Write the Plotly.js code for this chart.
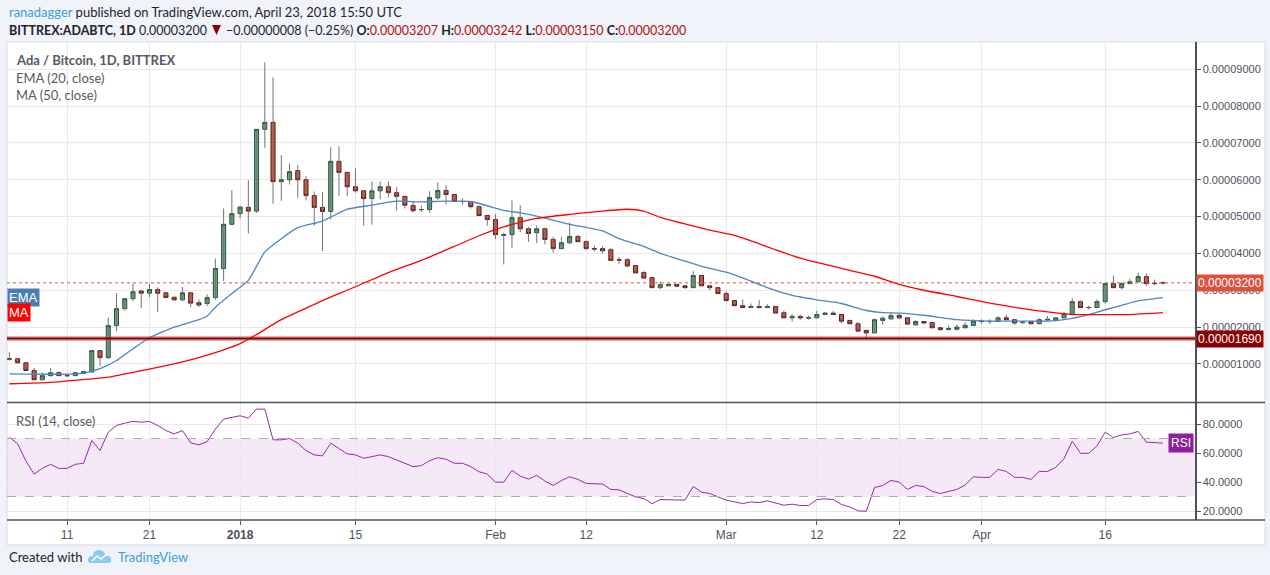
<!DOCTYPE html>
<html><head><meta charset="utf-8">
<script src="https://cdn.plot.ly/plotly-3.0.1.min.js"></script>
<style>html,body{margin:0;padding:0;background:#f0f3fa;overflow:hidden}#chart{width:1270px;height:575px}</style>
</head><body><div id="chart"></div>
<script>
// ---------- DATA (prices in satoshi, 1 sat = 0.00000001 BTC) ----------
const startDate = '2017-12-04';   // first daily candle
const opens = [1140,1140,1030,820,570,680,760,680,680,740,780,1360,1170,2040,2500,2770,2980,2920,3020,2930,
  2810,2740,2930,2660,2640,2800,3590,4790,5080,5250,5150,7370,7560,5950,6000,6250,6000,5570,5250,5140,
  6500,6200,5810,5700,5490,5700,5810,5650,5550,5300,5190,5190,5510,5710,5600,5410,5410,5270,5030,4920,
  4490,4510,4970,4670,4560,4670,4380,4130,4290,4460,4320,4130,4130,4100,3830,3830,3670,3480,3340,3070,
  3120,3160,3120,3070,3400,3120,3070,2910,2720,2580,2530,2560,2530,2560,2390,2250,2290,2250,2250,2340,
  2380,2340,2180,2090,1910,1840,2180,2220,2320,2250,2060,2150,2120,1980,1930,1940,1980,2040,2150,2150,
  2150,2250,2200,2120,2150,2090,2190,2180,2250,2360,2690,2530,2530,2690,3180,3070,3180,3230,3370,3190,3207];
const highs = [1320,1140,1030,890,770,890,790,710,760,820,1380,1360,2260,2920,2770,3180,3000,3180,3080,2960,
  2810,3090,2930,2750,2890,3860,5220,5720,5260,5990,7370,9190,8780,6670,6440,6400,6100,5680,5670,6880,
  6910,6220,6310,5700,5960,5960,5960,5800,5550,5400,5300,5690,5930,5850,5600,5500,5410,5300,5030,5060,
  4560,5440,5310,4720,4760,4700,4450,4450,4840,4500,4350,4210,4200,4150,3900,3870,3670,3520,3340,3240,
  3160,3170,3120,3520,3400,3120,3070,2970,2720,2750,2640,2740,2620,2560,2450,2350,2330,2310,2440,2410,
  2440,2340,2180,2130,1910,2230,2290,2400,2360,2250,2190,2150,2120,1980,2040,2070,2130,2210,2210,2210,
  2290,2340,2220,2160,2150,2240,2300,2270,2410,2780,2720,2580,2750,3180,3400,3220,3310,3480,3460,3290,3242];
const lows = [1090,1030,820,570,550,660,680,660,680,740,780,940,1130,1890,2450,2700,2510,2810,2410,2800,
  2720,2700,2540,2540,2570,2740,3250,4790,4950,4540,5100,6870,5350,5430,5870,5510,5440,4750,4070,4920,
  5560,5560,5650,4750,4780,5470,5520,5170,5220,5110,5120,5110,5450,5330,5410,5330,5220,5030,4750,4390,
  3700,4150,4580,4310,4280,4240,4020,4130,4250,4300,4100,4060,4000,3800,3710,3620,3470,3330,3070,3030,
  3120,3080,3050,3070,3120,3000,2910,2690,2580,2530,2530,2500,2530,2360,2250,2150,2200,2200,2250,2340,
  2340,2100,2090,1890,1660,1840,2070,2220,2220,2080,2040,2100,1980,1900,1930,1910,1980,2040,2090,2080,
  2150,2200,2060,2090,2090,2090,2170,2180,2250,2360,2530,2480,2530,2640,3070,3020,3180,3230,3120,3140,3150];
const closes = [1130,1030,820,570,680,760,680,680,760,790,1360,1170,2040,2500,2770,2960,2920,3020,2920,2800,
  2740,2930,2650,2600,2800,3590,4790,5080,5260,5150,7370,7560,5950,6000,6220,6000,5570,5250,5140,6500,
  6200,5810,5700,5490,5700,5810,5650,5550,5310,5160,5190,5520,5710,5600,5410,5410,5270,5030,4920,4510,
  4510,4970,4670,4540,4670,4380,4130,4290,4460,4320,4130,4120,4070,3810,3820,3660,3470,3330,3070,3150,
  3160,3110,3070,3400,3120,3070,2910,2720,2580,2530,2560,2530,2560,2380,2250,2290,2250,2250,2340,2380,
  2340,2160,2090,1890,1840,2200,2240,2310,2250,2080,2150,2110,1980,1930,1960,2000,2050,2160,2160,2150,
  2250,2200,2110,2130,2090,2200,2210,2250,2360,2690,2530,2530,2690,3180,3070,3180,3230,3370,3180,3180,3200];

// EMA (20, close)
const emaDates = ['2017-12-04','2017-12-11','2017-12-13','2017-12-15','2017-12-17','2017-12-19','2017-12-21','2017-12-24','2017-12-27','2017-12-28',
  '2017-12-29','2017-12-31','2018-01-02','2018-01-04','2018-01-06','2018-01-08','2018-01-11','2018-01-14','2018-01-17','2018-01-20',
  '2018-01-23','2018-01-26','2018-01-29','2018-02-02','2018-02-04','2018-02-06','2018-02-10','2018-02-14','2018-02-16','2018-02-19',
  '2018-02-21','2018-02-24','2018-02-26','2018-03-01','2018-03-04','2018-03-06','2018-03-09','2018-03-12','2018-03-15','2018-03-18',
  '2018-03-20','2018-03-22','2018-03-25','2018-03-29','2018-04-02','2018-04-06','2018-04-09','2018-04-11','2018-04-14','2018-04-16',
  '2018-04-18','2018-04-20','2018-04-23'];
const emaVals = [730,720,750,870,1090,1410,1710,2000,2200,2300,
  2540,2910,3270,4040,4400,4700,4880,5200,5310,5420,
  5400,5420,5410,5170,5100,5010,4790,4610,4400,4190,
  4000,3790,3650,3490,3250,3070,2860,2740,2640,2450,
  2390,2380,2320,2200,2160,2160,2160,2200,2340,2470,
  2590,2710,2800];
// MA (50, close)
const maDates = ['2017-12-04','2017-12-09','2017-12-13','2017-12-16','2017-12-19','2017-12-21','2017-12-24','2017-12-27','2017-12-30','2018-01-01',
  '2018-01-03','2018-01-06','2018-01-08','2018-01-11','2018-01-14','2018-01-19','2018-01-23','2018-01-27','2018-01-30','2018-02-02',
  '2018-02-06','2018-02-10','2018-02-14','2018-02-17','2018-02-19','2018-02-21','2018-02-24','2018-02-27','2018-03-02','2018-03-04',
  '2018-03-10','2018-03-16','2018-03-19','2018-03-22','2018-03-25','2018-03-29','2018-04-02','2018-04-06','2018-04-09','2018-04-12',
  '2018-04-16','2018-04-19','2018-04-23'];
const maVals = [460,500,570,640,770,860,1000,1170,1380,1550,
  1800,2200,2410,2720,3000,3480,3810,4190,4480,4720,
  4950,5060,5150,5200,5150,4980,4800,4630,4490,4340,
  3870,3540,3380,3160,3000,2830,2650,2500,2410,2340,
  2340,2340,2390];
// RSI (14, close), one value per candle
const rsi = [70.9,66.3,54.5,45.5,49.4,52.2,49.4,49.4,52.2,52.9,
  68.6,61.7,74.4,79.0,80.6,81.8,81.3,81.8,79.0,75.5,
  73.2,75.5,67.0,65.6,67.9,76.5,83.4,84.8,85.7,84.1,
  90.3,90.3,69.1,69.1,70.0,66.8,61.7,58.7,58.0,66.8,
  63.3,59.4,58.7,56.4,57.5,58.7,57.5,55.2,52.9,50.6,
  51.3,54.7,56.8,55.7,52.9,52.9,50.6,47.1,45.5,39.9,
  39.9,48.0,44.1,42.0,44.6,40.6,37.6,41.0,43.6,41.8,
  39.0,38.9,38.6,34.9,34.6,32.1,29.8,28.6,25.1,27.9,
  27.9,27.9,27.5,36.9,33.0,32.1,29.8,27.5,26.3,25.1,
  26.3,25.8,27.0,25.6,24.0,24.7,23.8,23.8,27.9,28.4,
  27.9,24.5,22.8,20.1,19.8,36.2,37.6,41.1,39.9,34.9,
  37.6,36.9,33.5,32.1,33.5,34.9,37.9,43.6,43.2,43.2,
  48.7,47.3,43.2,43.2,41.8,47.3,47.3,50.1,56.1,68.2,
  59.8,59.8,64.9,74.4,70.7,72.5,73.2,74.9,67.5,67.2,66.8];
const supportLevel = 1690;
const lastPrice = 3200;
const priceTicks = [1000,2000,3000,4000,5000,6000,7000,8000,9000];
const rsiTicks = [20,40,60,80];
const rsiBands = [30,70];
const dateTickVals = ['2017-12-11','2017-12-21','2018-01-01','2018-01-15','2018-02-01','2018-02-12','2018-03-01','2018-03-12','2018-03-22','2018-04-01','2018-04-16'];
const dateTickText = ['11','21','<b>2018</b>','15','Feb','12','Mar','12','22','Apr','16'];

// ---------- BUILD ----------
const SAT = 1e-8;
const s = v => v*SAT;
const t0 = Date.parse(startDate+'T00:00:00Z');
const dates = opens.map((_,i)=>new Date(t0+i*86400000).toISOString().slice(0,10));

const wx=[], wy=[];
dates.forEach((d,i)=>{wx.push(d,d,null); wy.push(s(lows[i]),s(highs[i]),null);});

const FONT = 'Liberation Sans, Arial, sans-serif';
const UIF = 'Lato, Open Sans, sans-serif';
// pixel helpers (plot area: x 7..1195, y 42..520)
const X = px => (px-7)/1188;
const Y = py => (520-py)/478;

const traces = [
  {type:'scatter', mode:'lines', x:wx, y:wy, line:{color:'#737375', width:1}, hoverinfo:'skip', xaxis:'x', yaxis:'y'},
  {type:'candlestick', x:dates,
   open:opens.map(s), close:closes.map(s),
   high:opens.map((o,i)=>s(Math.max(o,closes[i]))), low:opens.map((o,i)=>s(Math.min(o,closes[i]))),
   increasing:{fillcolor:'#6ba583', line:{color:'#225437', width:1}},
   decreasing:{fillcolor:'#d75442', line:{color:'#5b1a13', width:1}},
   whiskerwidth:0, xaxis:'x', yaxis:'y'},
  {type:'scatter', mode:'lines', x:emaDates, y:emaVals.map(s), line:{color:'#4a86c5', width:1.3, shape:'spline', smoothing:0.5}, xaxis:'x', yaxis:'y'},
  {type:'scatter', mode:'lines', x:maDates, y:maVals.map(s), line:{color:'#ff0000', width:1.3, shape:'spline', smoothing:0.5}, xaxis:'x', yaxis:'y'},
  {type:'scatter', mode:'lines', x:dates, y:rsi, line:{color:'#9c27b0', width:1}, xaxis:'x', yaxis:'y2'}
];

const mainBottom = (520-402.5)/478;
const rsiTop = (520-403)/478;

const shapes = [
  // white chart panel
  {type:'rect', xref:'paper', yref:'paper', x0:X(7), x1:X(1265), y0:Y(545), y1:Y(42), fillcolor:'#ffffff', line:{color:'#d6d9e0', width:1}, layer:'below'},
  // RSI band
  {type:'rect', xref:'paper', yref:'y2', x0:0, x1:1, y0:rsiBands[0], y1:rsiBands[1], fillcolor:'rgba(156,39,176,0.1)', line:{width:0}, layer:'below'},
  {type:'line', xref:'paper', yref:'y2', x0:0, x1:1, y0:rsiBands[1], y1:rsiBands[1], line:{color:'#b0a8b8', width:1, dash:'dash'}},
  {type:'line', xref:'paper', yref:'y2', x0:0, x1:1, y0:rsiBands[0], y1:rsiBands[0], line:{color:'#b0a8b8', width:1, dash:'dash'}},
  // support line
  {type:'line', xref:'paper', yref:'y', x0:0, x1:1, y0:s(supportLevel), y1:s(supportLevel), line:{color:'rgba(200,80,80,0.45)', width:5}},
  {type:'line', xref:'paper', yref:'y', x0:0, x1:1, y0:s(supportLevel), y1:s(supportLevel), line:{color:'#8b0000', width:2}},
  // last price dotted line
  {type:'line', xref:'paper', yref:'y', x0:0, x1:1, y0:s(lastPrice), y1:s(lastPrice), line:{color:'#d9533f', width:1, dash:'dot'}},
  // pane separator and bottom line
  {type:'line', xref:'paper', yref:'paper', x0:0, x1:X(1265), y0:mainBottom, y1:mainBottom, line:{color:'#4c525e', width:1.5}},
  {type:'line', xref:'paper', yref:'paper', x0:0, x1:X(1265), y0:0, y1:0, line:{color:'#4c525e', width:1.5}},
  // down-triangle in the header
  {type:'path', xref:'paper', yref:'paper', fillcolor:'#8b0000', line:{width:0},
   path:`M ${X(212)},${Y(25)} L ${X(221)},${Y(25)} L ${X(216.5)},${Y(35)} Z`},
  // TradingView logo (cloud)
  {type:'path', xref:'paper', yref:'paper', fillcolor:'#8ccbf0', line:{width:0},
   path:`M ${X(90)},${Y(563)} L ${X(108)},${Y(563)} Q ${X(112)},${Y(563)} ${X(111)},${Y(559)} Q ${X(110)},${Y(555)} ${X(106)},${Y(556)} Q ${X(104)},${Y(549)} ${X(98)},${Y(550)} Q ${X(93)},${Y(551)} ${X(93)},${Y(556)} Q ${X(88)},${Y(556)} ${X(88)},${Y(560)} Q ${X(88)},${Y(563)} ${X(90)},${Y(563)} Z`},
  {type:'path', xref:'paper', yref:'paper', line:{color:'#ffffff', width:1.5},
   path:`M ${X(92)},${Y(561)} L ${X(97)},${Y(556)} L ${X(101)},${Y(559)} L ${X(107)},${Y(554)}`}
];

const tag = (text, py, bg, x, xanchor, size) => ({xref:'paper', yref:'paper', x:x, y:Y(py), xanchor:xanchor, yanchor:'middle',
  text:text, showarrow:false, bgcolor:bg, font:{family:FONT, size:size||12, color:'#ffffff'}, borderpad:1});

const yPix = v => 400.2 - v/1000*36.77;

const annotations = [
  {xref:'paper', yref:'paper', x:X(7), y:Y(12), xanchor:'left', yanchor:'middle', showarrow:false,
   text:'<span style="color:#3c9fdc">ranadagger</span> published on TradingView.com, April 23, 2018 15:50 UTC',
   font:{family:UIF, size:13, color:'#1e2329'}},
  {xref:'paper', yref:'paper', x:X(7), y:Y(30), xanchor:'left', yanchor:'middle', showarrow:false,
   text:'<b>BITTREX:ADABTC, 1D</b> 0.00003200',
   font:{family:UIF, size:12.5, color:'#1e2329'}},
  {xref:'paper', yref:'paper', x:X(224), y:Y(30), xanchor:'left', yanchor:'middle', showarrow:false,
   text:'−0.00000008 (−0.25%) <b>O:</b><span style="color:#b01010">0.00003207</span> <b>H:</b><span style="color:#b01010">0.00003242</span> <b>L:</b><span style="color:#b01010">0.00003150</span> <b>C:</b><span style="color:#b01010">0.00003200</span>',
   font:{family:UIF, size:12.5, color:'#1e2329'}},
  {xref:'paper', yref:'paper', x:X(14), y:Y(60), xanchor:'left', yanchor:'middle', showarrow:false,
   text:'<b>Ada / Bitcoin, 1D, BITTREX</b>', font:{family:UIF, size:13, color:'#555a62'}},
  {xref:'paper', yref:'paper', x:X(14), y:Y(78), xanchor:'left', yanchor:'middle', showarrow:false,
   text:'EMA (20, close)', font:{family:UIF, size:13, color:'#555a62'}},
  {xref:'paper', yref:'paper', x:X(14), y:Y(95), xanchor:'left', yanchor:'middle', showarrow:false,
   text:'MA (50, close)', font:{family:UIF, size:13, color:'#555a62'}},
  {xref:'paper', yref:'paper', x:X(14), y:Y(421), xanchor:'left', yanchor:'middle', showarrow:false,
   text:'RSI (14, close)', font:{family:UIF, size:13, color:'#555a62'}},
  {xref:'paper', yref:'paper', x:X(7), y:Y(557), xanchor:'left', yanchor:'middle', showarrow:false,
   text:'Created with', font:{family:UIF, size:13, color:'#1e2329'}},
  {xref:'paper', yref:'paper', x:X(116), y:Y(557), xanchor:'left', yanchor:'middle', showarrow:false,
   text:'TradingView', font:{family:UIF, size:13, color:'#3c9fdc'}},
  tag('0.00003200', yPix(lastPrice), '#d9533f', X(1196), 'left', 12),
  tag('0.00001690', yPix(supportLevel)+1, '#8b0000', X(1196), 'left', 12),
  tag('EMA', yPix(emaVals[emaVals.length-1]), '#4a7fb4', X(7), 'left', 13),
  tag('MA', yPix(maVals[maVals.length-1]), '#ff0000', X(7), 'left', 13),
  {xref:'paper', yref:'y2', x:X(1194), y:rsi[rsi.length-1], xanchor:'right', yanchor:'middle', showarrow:false,
   text:'RSI', bgcolor:'#8e1f9e', font:{family:FONT, size:12, color:'#ffffff'}, borderpad:2}
];

const layout = {
  width:1270, height:575,
  paper_bgcolor:'#f0f3fa', plot_bgcolor:'#ffffff',
  margin:{l:7, r:75, t:42, b:55},
  showlegend:false, hovermode:false,
  xaxis:{type:'date', anchor:'y2', range:['2017-12-03 17:00','2018-04-26 21:36'],
    tickmode:'array', tickvals:dateTickVals, ticktext:dateTickText,
    showgrid:true, gridcolor:'#e9e9ea', gridwidth:1,
    ticks:'outside', ticklen:4, tickcolor:'#4c525e', showline:false,
    tickfont:{family:FONT, size:12, color:'#4c525e'}, rangeslider:{visible:false}, fixedrange:true},
  yaxis:{domain:[mainBottom,1], range:[-0.049e-5, 9.742e-5], side:'right', anchor:'x',
    tickmode:'array', tickvals:priceTicks.map(s), tickformat:'.8f',
    showgrid:true, gridcolor:'#e9e9ea', zeroline:false,
    ticks:'outside', ticklen:4, tickcolor:'#4c525e', showline:true, linecolor:'#4c525e', linewidth:1.5,
    tickfont:{family:FONT, size:11, color:'#4c525e'}, fixedrange:true},
  yaxis2:{domain:[0,rsiTop], range:[13.8,94.5], side:'right', anchor:'x',
    tickmode:'array', tickvals:rsiTicks, ticktext:rsiTicks.map(v=>v.toFixed(4)),
    showgrid:true, gridcolor:'#e9e9ea', zeroline:false,
    ticks:'outside', ticklen:4, tickcolor:'#4c525e', showline:true, linecolor:'#4c525e', linewidth:1.5,
    tickfont:{family:FONT, size:11, color:'#4c525e'}, fixedrange:true},
  shapes:shapes, annotations:annotations
};

Plotly.newPlot('chart', traces, layout, {staticPlot:true, displayModeBar:false});
</script>
</body></html>
